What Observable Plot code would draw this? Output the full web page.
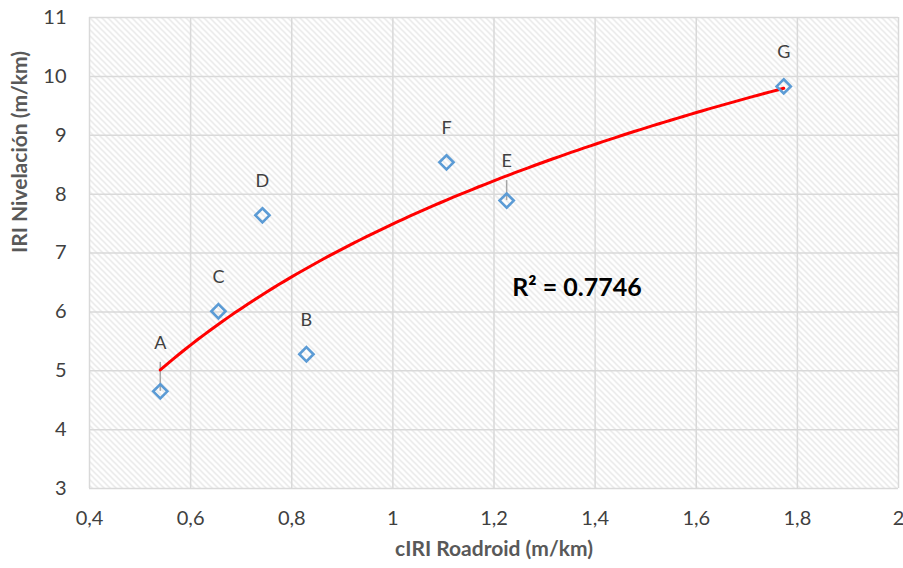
<!DOCTYPE html>
<html>
<head>
<meta charset="utf-8">
<script src="https://cdn.jsdelivr.net/npm/d3@7"></script>
<script src="https://cdn.jsdelivr.net/npm/@observablehq/plot@0.6"></script>
<style>
  html, body { margin: 0; padding: 0; background: #fff; }
  #chart svg { display: block; }
</style>
</head>
<body>
<div id="chart"></div>
<script>
// Road sections: smartphone cIRI (Roadroid) vs. IRI from level survey
const sections = ["A", "B", "C", "D", "E", "F", "G"];
const ciri = [0.540, 0.829, 0.655, 0.742, 1.225, 1.106, 1.773];
const iriNivelacion = [4.65, 5.28, 6.01, 7.64, 7.89, 8.54, 9.83];
const xTicks = [0.4, 0.6, 0.8, 1.0, 1.2, 1.4, 1.6, 1.8, 2.0];
const yTicks = [3, 4, 5, 6, 7, 8, 9, 10, 11];
const rSquared = "0.7746";
// labels that sit higher, with a leader line back to their point
const leaderLabels = ["A", "E"];

const rows = sections.map((s, i) => ({label: s, x: ciri[i], y: iriNivelacion[i]}));

// logarithmic trend line y = a·ln(x) + b (least squares)
const lx = ciri.map(Math.log);
const mx = d3.mean(lx), my = d3.mean(iriNivelacion);
const sxy = d3.sum(lx, (v, i) => (v - mx) * (iriNivelacion[i] - my));
const sxx = d3.sum(lx, v => (v - mx) ** 2);
const a = sxy / sxx, b = my - a * mx;
const [x0, x1] = d3.extent(ciri);
const trend = d3.range(0, 101).map(k => {
  const x = x0 + (x1 - x0) * k / 100;
  return {x, y: a * Math.log(x) + b};
});

const W = 903, H = 568;
const M = {top: 17, right: 5, bottom: 80, left: 89};
const yDomain = [3, 11];
const pxPerY = (H - M.top - M.bottom) / (yDomain[1] - yDomain[0]);
const labelDy = d => leaderLabels.includes(d.label) ? (d.label === "A" ? -48 : -39) : -34;
const comma = d => String(d).replace(".", ",");
const integer = d => String(d);

// one text mark per label offset (dy is a constant option)
const labelGroups = d3.groups(rows, labelDy).map(([dy, group]) =>
  Plot.text(group, {x: "x", y: "y", text: "label", dy, fontSize: 18, fill: "#404040"})
);

const chart = Plot.plot({
  width: W,
  height: H,
  marginTop: M.top,
  marginRight: M.right,
  marginBottom: M.bottom,
  marginLeft: M.left,
  style: {fontFamily: "Lato, 'Open Sans', sans-serif", background: "#fff", overflow: "visible"},
  x: {domain: [0.4, 2], ticks: xTicks, tickFormat: comma, label: null},
  y: {domain: yDomain, ticks: yTicks, tickFormat: integer, label: null},
  marks: [
    Plot.frame({fill: "url(#hatch)", stroke: "none"}),
    Plot.gridX(xTicks, {stroke: "#d9d9d9", strokeOpacity: 1, strokeWidth: 1.5}),
    Plot.gridY(yTicks, {stroke: "#d9d9d9", strokeOpacity: 1, strokeWidth: 1.5}),
    Plot.axisX(xTicks, {tickSize: 0, tickPadding: 22, tickFormat: comma, fontSize: 20, fill: "#404040", label: null}),
    Plot.axisY(yTicks, {tickSize: 0, tickPadding: 23, tickFormat: integer, fontSize: 20, fill: "#404040", label: null}),
    // leader lines from raised labels down to their points
    Plot.ruleX(rows.filter(d => leaderLabels.includes(d.label)), {
      x: "x",
      y1: "y",
      y2: d => d.y + (-labelDy(d) - 19) / pxPerY,
      stroke: "#a6a6a6",
      strokeWidth: 1.5
    }),
    Plot.line(trend, {x: "x", y: "y", stroke: "#ff0000", strokeWidth: 3}),
    Plot.dot(rows, {x: "x", y: "y", symbol: "diamond2", r: 6.4, stroke: "#5b9bd5", strokeWidth: 2.6, fill: "none"}),
    ...labelGroups,
    Plot.text([`R² = ${rSquared}`], {frameAnchor: "middle", dx: 83, dy: 35, fontSize: 25, fontWeight: "bold", fill: "#000"}),
    Plot.text(["cIRI Roadroid (m/km)"], {frameAnchor: "bottom", dy: 67, fontSize: 21, fontWeight: "bold", fill: "#595959"}),
    Plot.text(["IRI Nivelación (m/km)"], {frameAnchor: "left", dx: -69, rotate: -90, fontSize: 21, fontWeight: "bold", fill: "#595959"})
  ]
});

// diagonal hatch used as the plot-area fill
const defs = d3.create("svg:defs");
const pat = defs.append("pattern")
  .attr("id", "hatch")
  .attr("patternUnits", "userSpaceOnUse")
  .attr("width", 6)
  .attr("height", 6);
pat.append("rect").attr("width", 6).attr("height", 6).attr("fill", "#fff");
pat.append("path")
  .attr("d", "M-1,-1 L7,7 M-4,2 L4,10 M2,-4 L10,4")
  .attr("stroke", "#e0e0e0")
  .attr("stroke-width", 1.2);
chart.insertBefore(defs.node(), chart.firstChild);

document.getElementById("chart").appendChild(chart);
</script>
</body>
</html>
